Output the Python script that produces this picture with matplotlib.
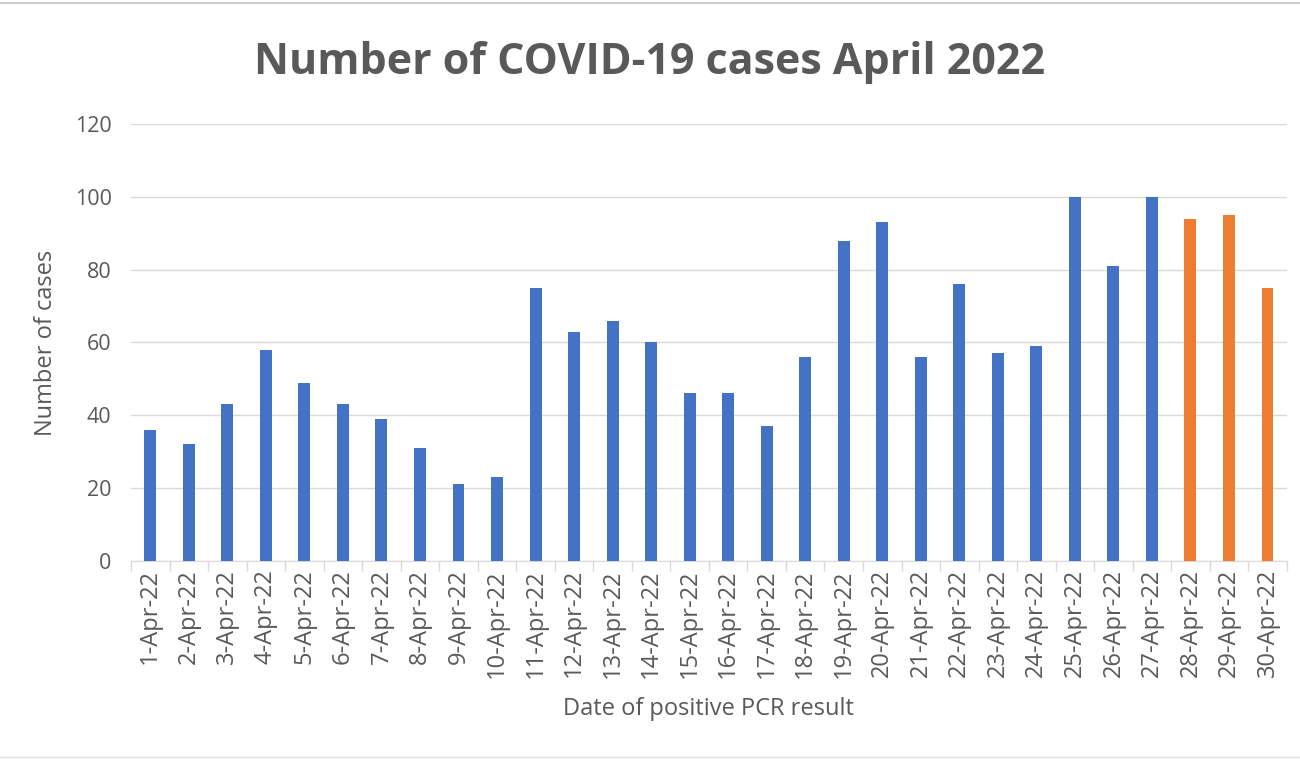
import numpy as np
import matplotlib.pyplot as plt

# ── data ────────────────────────────────────────────────
days   = [f'{d}-Apr-22' for d in range(1, 31)]
cases  = [36, 32, 43, 58, 49, 43, 39, 31, 21, 23,
          75, 63, 66, 60, 46, 46, 37, 56, 88, 93,
          56, 76, 57, 59, 100, 81, 100, 94, 95, 75]
n_confirmed = 27   # last three days drawn in orange (provisional)

BLUE   = '#4472C4'
ORANGE = '#ED7D31'
TXT    = '#595959'
GRID   = '#D9D9D9'

plt.rcParams['font.family'] = ['Open Sans', 'DejaVu Sans']

fig = plt.figure(figsize=(13, 7.59), dpi=100)
ax = fig.add_axes([0.1008, 0.261, 0.889, 0.5756])

x = np.arange(len(days))
colors = [BLUE if i < n_confirmed else ORANGE for i in range(len(days))]
ax.bar(x, cases, width=0.31, color=colors, zorder=3)

ax.set_xlim(-0.5, len(days) - 0.5)
ax.set_ylim(0, 120)
ax.set_yticks(range(0, 121, 20))
ax.set_xticks(x)
ax.set_xticklabels(days, rotation=90, fontsize=17, color=TXT)
ax.set_xticks(np.arange(-0.5, len(days), 1), minor=True)
ax.tick_params(axis='x', which='major', length=0, pad=6)
ax.tick_params(axis='x', which='minor', length=7, color=GRID, width=1)
ax.tick_params(axis='y', length=0, labelsize=15.5, labelcolor=TXT, pad=14)

ax.grid(True, axis='y', color=GRID, lw=1, zorder=0)
for s in ['top', 'right', 'left']:
    ax.spines[s].set_visible(False)
ax.spines['bottom'].set_color(GRID)

ax.set_ylabel('Number of cases', fontsize=17, color=TXT, labelpad=12)
ax.set_xlabel('Date of positive PCR result', fontsize=17, color=TXT, labelpad=14)

fig.text(0.5, 0.918, 'Number of COVID-19 cases April 2022', ha='center', va='center',
         fontsize=31, fontweight='bold', color=TXT)

# thin grey frame lines at top and bottom of the image
fig.add_artist(plt.Line2D([0, 1], [0.996, 0.996], color='#CCCCCC', lw=1.5))
fig.add_artist(plt.Line2D([0, 1], [0.002, 0.002], color='#E0E0E0', lw=1))

plt.savefig('out.png', dpi=100)
